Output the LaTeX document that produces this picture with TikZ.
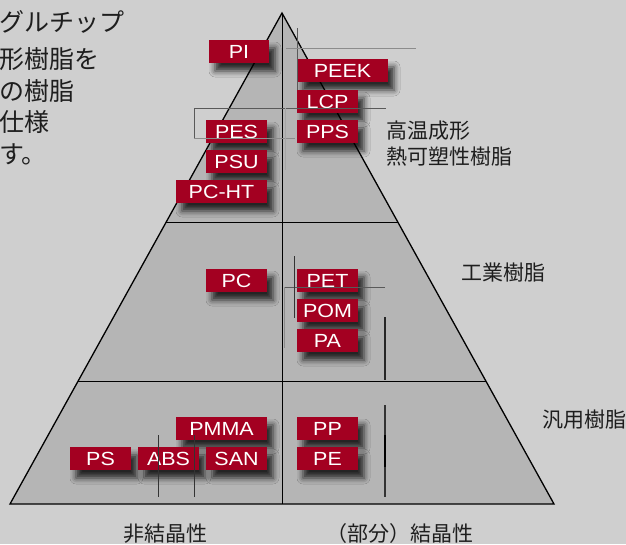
\documentclass[tikz,border=0pt]{standalone}
\usepackage{fontspec}
\setmainfont{Liberation Sans}
\newfontfamily\jfont{Noto Sans CJK JP}
\newfontfamily\labfont[FakeStretch=1.13]{Liberation Sans}
\usetikzlibrary{shadows.blur}
\definecolor{bg}{HTML}{CFCFCF}
\definecolor{pyr}{HTML}{B5B5B5}
\definecolor{lab}{RGB}{163,0,33}
\definecolor{txt}{HTML}{1E1E1E}
\tikzset{
  tag/.style={fill=lab, text=white, font=\labfont\fontsize{19}{20}\selectfont,
    minimum height=23pt, inner sep=0pt,
    blur shadow={shadow xshift=6pt, shadow yshift=-8pt, shadow blur radius=6pt, shadow opacity=80}},
  narrowtag/.style={tag, minimum width=61pt},
  widetag/.style={tag, minimum width=91pt},
  jp/.style={font=\jfont\fontsize{21}{24}\selectfont, text=txt, inner sep=0pt},
  jpbig/.style={font=\jfont\fontsize{25}{28}\selectfont, text=txt, inner sep=0pt, anchor=west},
  outline/.style={draw=black, line width=1.3pt},
  mark1/.style={draw=black!65, line width=0.8pt},
  mark2/.style={draw=black!45, line width=0.8pt},
  mark3/.style={draw=black!80, line width=1pt},
}
\begin{document}
\begin{tikzpicture}[x=1pt,y=-1pt]
\useasboundingbox (0,0) rectangle (626,544);
\fill[bg] (0,0) rectangle (626,544);
\begin{scope}
\clip (0,0) rectangle (626,544);
% top-left text (cut at the left edge, as in the reference)
\node[jpbig] (t1) at (-1,21.5) {グルチップ};
\node[jpbig] (t2) at (-1,59) {形樹脂を};
\node[jpbig] (t3) at (-1,91) {の樹脂};
\node[jpbig] (t4) at (-1,122.5) {仕様};
\node[jpbig] (t5) at (-1,154) {す。};
\end{scope}
% pyramid
\coordinate (apex) at (282,13);
\coordinate (bl) at (10,504);
\coordinate (br) at (554,504);
\coordinate (bc) at (282,504);
\fill[pyr] (apex) -- (br) -- (bl) -- cycle;
\coordinate (l1) at (166.2,222);
\coordinate (r1) at (397.8,222);
\coordinate (l2) at (78.1,381);
\coordinate (r2) at (485.9,381);
\draw[line width=1pt] (l1) -- (r1);
\draw[line width=1pt] (l2) -- (r2);
\draw[line width=1pt] (apex) -- (bc);
\draw[outline, line join=miter] (apex) -- (br) -- (bl) -- cycle;
% tags
\node[narrowtag, minimum width=60pt] (PI) at (239,51.5) {PI};
\node[widetag] (PEEK) at (342.5,70.5) {PEEK};
\node[narrowtag] (LCP) at (327.5,101.5) {LCP};
\node[narrowtag] (PPS) at (327.5,131.5) {PPS};
\node[narrowtag] (PES) at (236.5,131.5) {PES};
\node[narrowtag] (PSU) at (236.5,161.5) {PSU};
\node[widetag] (PCHT) at (221.5,191.5) {PC-HT};
\node[narrowtag] (PC) at (236.5,280.5) {PC};
\node[narrowtag] (PET) at (327.5,280.5) {PET};
\node[narrowtag] (POM) at (327.5,310.5) {POM};
\node[narrowtag] (PA) at (327.5,340.5) {PA};
\node[widetag] (PMMA) at (221.5,428.5) {PMMA};
\node[narrowtag] (PP) at (327.5,428.5) {PP};
\node[narrowtag] (PS) at (100.5,458.5) {PS};
\node[narrowtag] (ABS) at (168.5,458.5) {ABS};
\node[narrowtag] (SAN) at (236.5,458.5) {SAN};
\node[narrowtag] (PE) at (327.5,458.5) {PE};
% stray guide lines
\draw[mark1] (297,28) -- (297,90);
\draw[mark2] (286,48) -- (416,48);
\draw[mark1] (194,138) -- (194,108) -- (386,108);
\draw[mark2] (194,138) -- (295,138);
\draw[draw=black!35, line width=0.8pt] (285,108) -- (285,170);
\draw[mark1] (385,287) -- (284,287);
\draw[mark2] (284,287) -- (284,348);
\draw[mark3] (294,256) -- (294,318);
\draw[draw=black!85, line width=1.5pt] (385,317) -- (385,380);
\draw[mark3, line width=1.2pt] (385,405) -- (385,497);
\draw[draw=black, line width=2pt] (385,435) -- (385,467);
\draw[mark3] (158,435) -- (158,497);
\draw[mark3] (194,435) -- (194,497);
% category labels
\node[jp, anchor=west] (hi1) at (386,131) {高温成形};
\node[jp, anchor=west] (hi2) at (386,157) {熱可塑性樹脂};
\node[jp, anchor=west] (eng) at (461,273) {工業樹脂};
\node[jp, anchor=west] (gen) at (542,420) {汎用樹脂};
\node[jp] (amor) at (165,534) {非結晶性};
\node[jp, anchor=east] (cryst) at (474,534) {（部分）結晶性};
\end{tikzpicture}
\end{document}
